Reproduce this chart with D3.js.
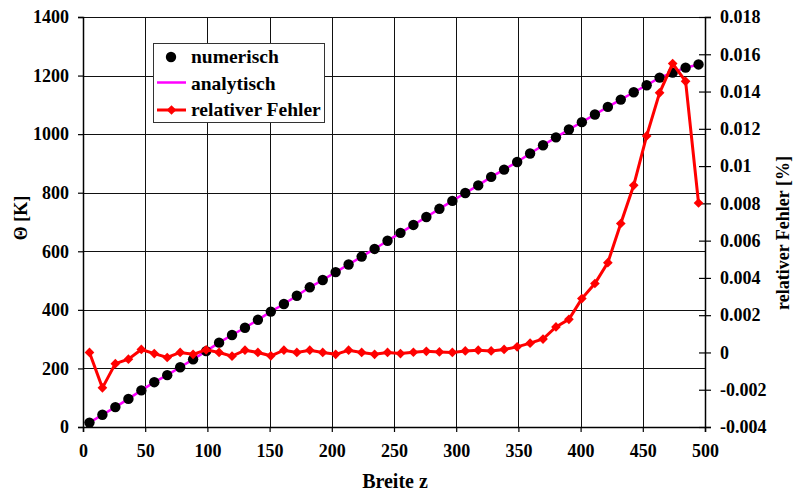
<!DOCTYPE html>
<html>
<head>
<meta charset="utf-8">
<script src="https://cdn.jsdelivr.net/npm/d3@7"></script>
<style>
  body { margin: 0; background: #fff; }
  #chart { width: 796px; height: 493px; }
  text { font-family: "Liberation Serif", "Times New Roman", serif; font-weight: bold; fill: #000; }
</style>
</head>
<body>
<div id="chart"></div>
<script>
//Datos
const breiteZ = [5.2, 15.6, 26.0, 36.5, 46.9, 57.3, 67.7, 78.1, 88.5, 99.0,
  109.4, 119.8, 130.2, 140.6, 151.0, 161.5, 171.9, 182.3, 192.7, 203.1,
  213.5, 224.0, 234.4, 244.8, 255.2, 265.6, 276.0, 286.5, 296.9, 307.3,
  317.7, 328.1, 338.5, 349.0, 359.4, 369.8, 380.2, 390.6, 401.0, 411.5,
  421.9, 432.3, 442.7, 453.1, 463.5, 474.0, 484.4, 494.8];

const thetaNumerisch = [15, 42, 68, 96, 125, 153, 177, 204, 231, 259,
  288, 314, 339, 366, 394, 420, 448, 477, 502, 529,
  555, 582, 608, 636, 663, 690, 717, 745, 772, 799,
  825, 854, 879, 905, 934, 962, 989, 1016, 1041, 1067,
  1093, 1118, 1143, 1167, 1193, 1210, 1227, 1238];

//la solucion analytische liegt im Bild auf den numerischen Punkten
const thetaAnalytisch = [15, 42, 68, 96, 125, 153, 177, 204, 231, 259,
  288, 314, 339, 366, 394, 420, 448, 477, 502, 529,
  555, 582, 608, 636, 663, 690, 717, 745, 772, 799,
  825, 854, 879, 905, 934, 962, 989, 1016, 1041, 1067,
  1093, 1118, 1143, 1167, 1193, 1210, 1227, 1238];

const relFehler = [0.0, -0.0019, -0.0006, -0.00036, 0.00016, -0.00006, -0.00027, 0.0, -0.0001, 0.00014,
  0.0, -0.0002, 0.00012, 0.0, -0.00018, 0.00012, 0.0, 0.00012, 0.0, -0.0001,
  0.00012, 0.0, -0.0001, 0.0, -0.00006, 0.00001, 0.00006, 0.00003, 0.0, 0.00008,
  0.00012, 0.00008, 0.00016, 0.0003, 0.0005, 0.00072, 0.00137, 0.00178, 0.00289, 0.0037,
  0.00482, 0.00692, 0.00897, 0.01162, 0.01393, 0.0155, 0.01455, 0.00802];

const xTicks = [0, 50, 100, 150, 200, 250, 300, 350, 400, 450, 500];
const yTicks = [0, 200, 400, 600, 800, 1000, 1200, 1400];
const y2Ticks = [-0.004, -0.002, 0, 0.002, 0.004, 0.006, 0.008, 0.01, 0.012, 0.014, 0.016, 0.018];
const y2Labels = ['-0.004', '-0.002', '0', '0.002', '0.004', '0.006', '0.008', '0.01', '0.012', '0.014', '0.016', '0.018'];

const legendItems = ['numerisch', 'analytisch', 'relativer Fehler'];

const COLOR_NUM = '#000000',
  COLOR_ANA = '#FF00FF',
  COLOR_ERR = '#FF0000';

let margin = {top: 17, right: 91, bottom: 66, left: 83},
  width = 796 - margin.left - margin.right,
  height = 493 - margin.top - margin.bottom;

let svg = d3.select('#chart')
  .append('svg')
    .attr('width', 796)
    .attr('height', 493)
  .append('g')
    .attr('transform', 'translate(' + margin.left + ',' + margin.top + ')');

let x = d3.scaleLinear().domain([0, 500]).range([0, width]);
let y = d3.scaleLinear().domain([0, 1400]).range([height, 0]);
let y2 = d3.scaleLinear().domain([-0.004, 0.018]).range([height, 0]);

//Rejilla
svg.append('g')
  .selectAll('line')
  .data(yTicks)
  .enter()
  .append('line')
    .attr('x1', 0).attr('x2', width)
    .attr('y1', d => Math.round(y(d)) + 0.5).attr('y2', d => Math.round(y(d)) + 0.5)
    .attr('stroke', '#111').attr('stroke-width', 1);

svg.append('g')
  .selectAll('line')
  .data(xTicks.slice(1))
  .enter()
  .append('line')
    .attr('x1', d => Math.round(x(d)) + 0.5).attr('x2', d => Math.round(x(d)) + 0.5)
    .attr('y1', 0).attr('y2', height)
    .attr('stroke', '#111').attr('stroke-width', 1);

//Ejes
let xAxis = svg.append('g')
  .attr('transform', 'translate(0,' + height + ')')
  .call(d3.axisBottom(x).tickValues(xTicks).tickSize(5).tickPadding(12).tickFormat(d3.format('d')));

let yAxis = svg.append('g')
  .call(d3.axisLeft(y).tickValues(yTicks).tickSize(5).tickPadding(9).tickFormat(d3.format('d')));

let y2Axis = svg.append('g')
  .attr('transform', 'translate(' + width + ',0)')
  .call(d3.axisRight(y2).tickValues(y2Ticks).tickSize(6).tickPadding(9).tickFormat((d, i) => y2Labels[i]));

y2Axis.selectAll('.tick line').attr('x1', -6);

[xAxis, yAxis, y2Axis].forEach(function(a) {
  a.select('.domain').attr('stroke', '#000').attr('stroke-width', 1.5);
  a.selectAll('.tick line').attr('stroke', '#000').attr('stroke-width', 1.2);
  a.selectAll('.tick text').style('font-size', '18px').style('font-family', '"Liberation Serif", serif').style('font-weight', 'bold');
});

//Titulos de ejes
svg.append('text')
  .attr('x', width / 2 + 1)
  .attr('y', height + 61)
  .attr('text-anchor', 'middle')
  .style('font-size', '20px')
  .text('Breite z');

svg.append('text')
  .attr('transform', 'translate(' + (-56) + ',' + (height / 2 - 4) + ') rotate(-90)')
  .attr('text-anchor', 'middle')
  .style('font-size', '18px')
  .text('Θ [K]');

svg.append('text')
  .attr('transform', 'translate(' + (width + 84) + ',' + (height / 2 + 11) + ') rotate(-90)')
  .attr('text-anchor', 'middle')
  .style('font-size', '18px')
  .text('relativer Fehler [%]');

//Series
let lineAna = d3.line()
  .x((d, i) => x(breiteZ[i]))
  .y(d => y(d));

svg.append('path')
  .datum(thetaAnalytisch)
  .attr('fill', 'none')
  .attr('stroke', COLOR_ANA)
  .attr('stroke-width', 2.5)
  .attr('d', lineAna);

svg.append('g')
  .selectAll('circle')
  .data(thetaNumerisch)
  .enter()
  .append('circle')
    .attr('cx', (d, i) => x(breiteZ[i]))
    .attr('cy', d => y(d))
    .attr('r', 5.2)
    .attr('fill', COLOR_NUM);

let lineErr = d3.line()
  .x((d, i) => x(breiteZ[i]))
  .y(d => y2(d));

svg.append('path')
  .datum(relFehler)
  .attr('fill', 'none')
  .attr('stroke', COLOR_ERR)
  .attr('stroke-width', 3)
  .attr('d', lineErr);

let diamond = d3.symbol().type(d3.symbolDiamond2).size(60);

svg.append('g')
  .selectAll('path')
  .data(relFehler)
  .enter()
  .append('path')
    .attr('transform', (d, i) => 'translate(' + x(breiteZ[i]) + ',' + y2(d) + ')')
    .attr('d', diamond)
    .attr('fill', COLOR_ERR);

//Leyenda
let legend = svg.append('g')
  .attr('transform', 'translate(' + (153 - margin.left) + ',' + (43 - margin.top) + ')');

legend.append('rect')
  .attr('x', 0.5).attr('y', 0.5)
  .attr('width', 171).attr('height', 79)
  .attr('fill', '#fff')
  .attr('stroke', '#333')
  .attr('stroke-width', 1);

legend.append('circle')
  .attr('cx', 18).attr('cy', 14)
  .attr('r', 5.2)
  .attr('fill', COLOR_NUM);

legend.append('line')
  .attr('x1', 4).attr('x2', 33)
  .attr('y1', 39.5).attr('y2', 39.5)
  .attr('stroke', COLOR_ANA).attr('stroke-width', 2.5);

legend.append('line')
  .attr('x1', 4).attr('x2', 33)
  .attr('y1', 67).attr('y2', 67)
  .attr('stroke', COLOR_ERR).attr('stroke-width', 3);

legend.append('path')
  .attr('transform', 'translate(18.5,67)')
  .attr('d', diamond)
  .attr('fill', COLOR_ERR);

legend.selectAll('.ltext')
  .data(legendItems)
  .enter()
  .append('text')
    .attr('class', 'ltext')
    .attr('x', 38)
    .attr('y', (d, i) => 20 + i * 26.7)
    .style('font-size', '19.5px')
    .text(d => d);
</script>
</body>
</html>
